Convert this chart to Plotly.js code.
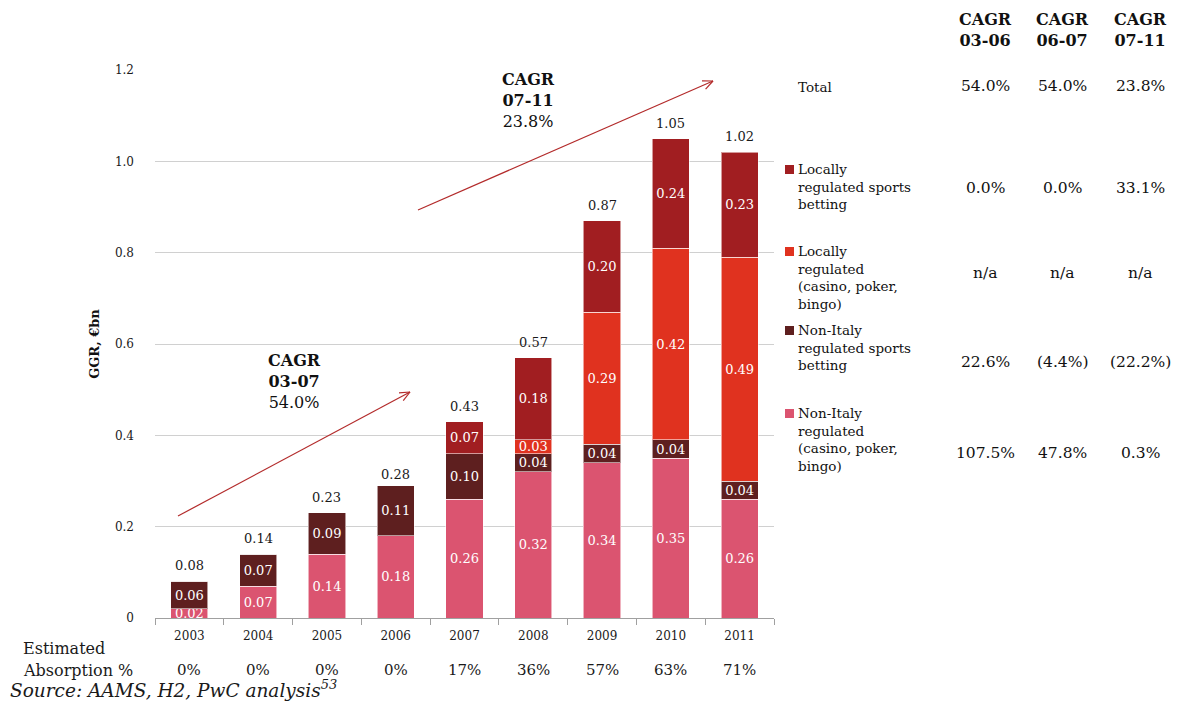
<!DOCTYPE html>
<html>
<head>
<meta charset="utf-8">
<script src="https://cdn.plot.ly/plotly-3.0.1.min.js"></script>
<style>html,body{margin:0;padding:0;background:#fff;}#chart{width:1180px;height:704px;}</style>
</head>
<body>
<div id="chart"></div>
<script>
// ---- data ----
const years = ['2003','2004','2005','2006','2007','2008','2009','2010','2011'];
const nonItalyCasino = [0.02,0.07,0.14,0.18,0.26,0.32,0.34,0.35,0.26];
const nonItalySports = [0.06,0.07,0.09,0.11,0.10,0.04,0.04,0.04,0.04];
const localCasino    = [0,0,0,0,0,0.03,0.29,0.42,0.49];
const localSports    = [0,0,0,0,0.07,0.18,0.20,0.24,0.23];
const totals         = [0.08,0.14,0.23,0.28,0.43,0.57,0.87,1.05,1.02];
const absorption     = ['0%','0%','0%','0%','17%','36%','57%','63%','71%'];
const seriesNames = ['Non-Italy regulated (casino, poker, bingo)','Non-Italy regulated sports betting','Locally regulated (casino, poker, bingo)','Locally regulated sports betting'];
const seriesColors = ['#DB5470','#5E1F1F','#E0321F','#A11E21'];
const cagrHeaders = ['CAGR<br>03-06','CAGR<br>06-07','CAGR<br>07-11'];
const cagrTotal = ['54.0%','54.0%','23.8%'];
const cagrLocalSports = ['0.0%','0.0%','33.1%'];
const cagrLocalCasino = ['n/a','n/a','n/a'];
const cagrNonItalySports = ['22.6%','(4.4%)','(22.2%)'];
const cagrNonItalyCasino = ['107.5%','47.8%','0.3%'];
const legendLabels = ['Locally<br>regulated sports<br>betting','Locally<br>regulated<br>(casino, poker,<br>bingo)','Non-Italy<br>regulated sports<br>betting','Non-Italy<br>regulated<br>(casino, poker,<br>bingo)'];

// ---- geometry helpers (pixels) ----
const L=155, R=774, T=70, B=618;
const px = v => (v-L)/(R-L);
const py = v => (B-v)/(B-T);
const SERIF = 'DejaVu Serif';

const fmt = arr => arr.map(v => v>0 ? v.toFixed(2) : '');
const seriesData = [nonItalyCasino, nonItalySports, localCasino, localSports];
const traces = seriesData.map((vals,i)=>({
  type:'bar', x:years, y:vals, name:seriesNames[i],
  marker:{color:seriesColors[i], line:{color:'rgba(255,255,255,0.55)', width:1}},
  text:fmt(vals), textposition:'inside', insidetextanchor:'middle',
  textfont:{family:SERIF, size:13, color:'#ffffff'},
  hoverinfo:'skip'
}));

const ann = [];
const shapes = [];
// total labels above bars
totals.forEach((v,i)=>{
  ann.push({xref:'x', yref:'y', x:i, y:v, text:v.toFixed(2), showarrow:false, xanchor:'center', yanchor:'bottom', yshift:6,
    font:{family:SERIF, size:13, color:'#1a1a1a'}});
});
// absorption row
years.forEach((yr,i)=>{
  ann.push({xref:'x', yref:'paper', x:i, y:py(670), text:absorption[i], showarrow:false,
    font:{family:SERIF, size:15, color:'#1a1a1a'}, xanchor:'center', yanchor:'middle'});
});
ann.push({xref:'paper', yref:'paper', x:px(21), y:py(648), text:'Estimated', showarrow:false, xanchor:'left', yanchor:'middle', font:{family:SERIF,size:16,color:'#1a1a1a'}});
ann.push({xref:'paper', yref:'paper', x:px(21), y:py(670), text:'Absorption %', showarrow:false, xanchor:'left', yanchor:'middle', font:{family:SERIF,size:16,color:'#1a1a1a'}});
ann.push({xref:'paper', yref:'paper', x:px(8), y:py(689), text:'<i>Source: AAMS, H2, PwC analysis<sup>53</sup></i>', showarrow:false, xanchor:'left', yanchor:'middle', font:{family:SERIF,size:18.5,color:'#1a1a1a'}});

// in-chart CAGR labels
ann.push({xref:'paper', yref:'paper', x:px(294), y:py(381), text:'<b>CAGR</b><br><b>03-07</b><br>54.0%', showarrow:false, xanchor:'center', yanchor:'middle', font:{family:SERIF,size:16,color:'#111'}});
ann.push({xref:'paper', yref:'paper', x:px(528), y:py(100), text:'<b>CAGR</b><br><b>07-11</b><br>23.8%', showarrow:false, xanchor:'center', yanchor:'middle', font:{family:SERIF,size:16,color:'#111'}});

// arrows (pixel-defined decorations)
function arrow(x0,y0,x1,y1){
  const col='#B32B2B';
  shapes.push({type:'line', xref:'paper', yref:'paper', x0:px(x0), y0:py(y0), x1:px(x1), y1:py(y1), line:{color:col,width:1.2}});
  const ang=Math.atan2(y1-y0,x1-x0), h=11, s=0.42;
  [ang+Math.PI-s, ang+Math.PI+s].forEach(a=>{
    shapes.push({type:'line', xref:'paper', yref:'paper', x0:px(x1), y0:py(y1), x1:px(x1+h*Math.cos(a)), y1:py(y1+h*Math.sin(a)), line:{color:col,width:1.2}});
  });
}
arrow(178,516,410,392);
arrow(418,210,713,81);

// right-side table
const colX=[985,1062,1140];
cagrHeaders.forEach((h,i)=>ann.push({xref:'paper', yref:'paper', x:px(colX[i]), y:py(30), text:'<b>'+h+'</b>', showarrow:false, xanchor:'center', yanchor:'middle', font:{family:SERIF,size:16,color:'#111'}}));
const rows=[
  {vals:cagrTotal, y:86},
  {vals:cagrLocalSports, y:188},
  {vals:cagrLocalCasino, y:273},
  {vals:cagrNonItalySports, y:362},
  {vals:cagrNonItalyCasino, y:453}
];
rows.forEach(r=>r.vals.forEach((v,i)=>ann.push({xref:'paper', yref:'paper', x:px(colX[i]), y:py(r.y), text:v, showarrow:false, xanchor:'center', yanchor:'middle', font:{family:SERIF,size:15.5,color:'#111'}})));
ann.push({xref:'paper', yref:'paper', x:px(796), y:py(87), text:'Total', showarrow:false, xanchor:'left', yanchor:'middle', font:{family:SERIF,size:13.5,color:'#111'}});
const legendTop=[169,251,330,413];
const legendColorIdx=[3,2,1,0];
legendLabels.forEach((lab,i)=>{
  ann.push({xref:'paper', yref:'paper', x:px(796), y:py(legendTop[i]-10), text:lab, showarrow:false, xanchor:'left', yanchor:'top', align:'left', font:{family:SERIF,size:13.5,color:'#111'}});
  shapes.push({type:'rect', xref:'paper', yref:'paper', x0:px(785), x1:px(794), y0:py(legendTop[i]-4), y1:py(legendTop[i]+5), fillcolor:seriesColors[legendColorIdx[i]], line:{width:0}});
});

const layout = {
  width:1180, height:704,
  margin:{l:L, r:1180-R, t:T, b:704-B, pad:0},
  barmode:'stack', bargap:0.46,
  showlegend:false,
  paper_bgcolor:'#ffffff', plot_bgcolor:'#ffffff',
  uniformtext:{mode:'show', minsize:13},
  xaxis:{type:'category', range:[-0.5,8.5], autorange:false, showline:true, linecolor:'#a0a0a0', linewidth:1,
    ticks:'outside', tickson:'boundaries', ticklen:6, tickcolor:'#a0a0a0', tickangle:0, ticklabelstandoff:7,
    tickfont:{family:SERIF, size:12, color:'#1a1a1a'}, showgrid:false, fixedrange:true},
  yaxis:{range:[0,1.2], autorange:false, tickvals:[0,0.2,0.4,0.6,0.8,1.0,1.2], ticktext:['0','0.2','0.4','0.6','0.8','1.0','1.2'],
    showgrid:true, gridcolor:'#d0d0d0', gridwidth:1, zeroline:false, showline:false,
    ticks:'', ticklabelstandoff:20, tickfont:{family:SERIF, size:12, color:'#1a1a1a'},
    title:{text:'<b>GGR, €bn</b>', font:{family:SERIF, size:13, color:'#111'}, standoff:12}, fixedrange:true},
  annotations:ann, shapes:shapes
};
Plotly.newPlot('chart', traces, layout, {displayModeBar:false, staticPlot:true});
</script>
</body>
</html>
